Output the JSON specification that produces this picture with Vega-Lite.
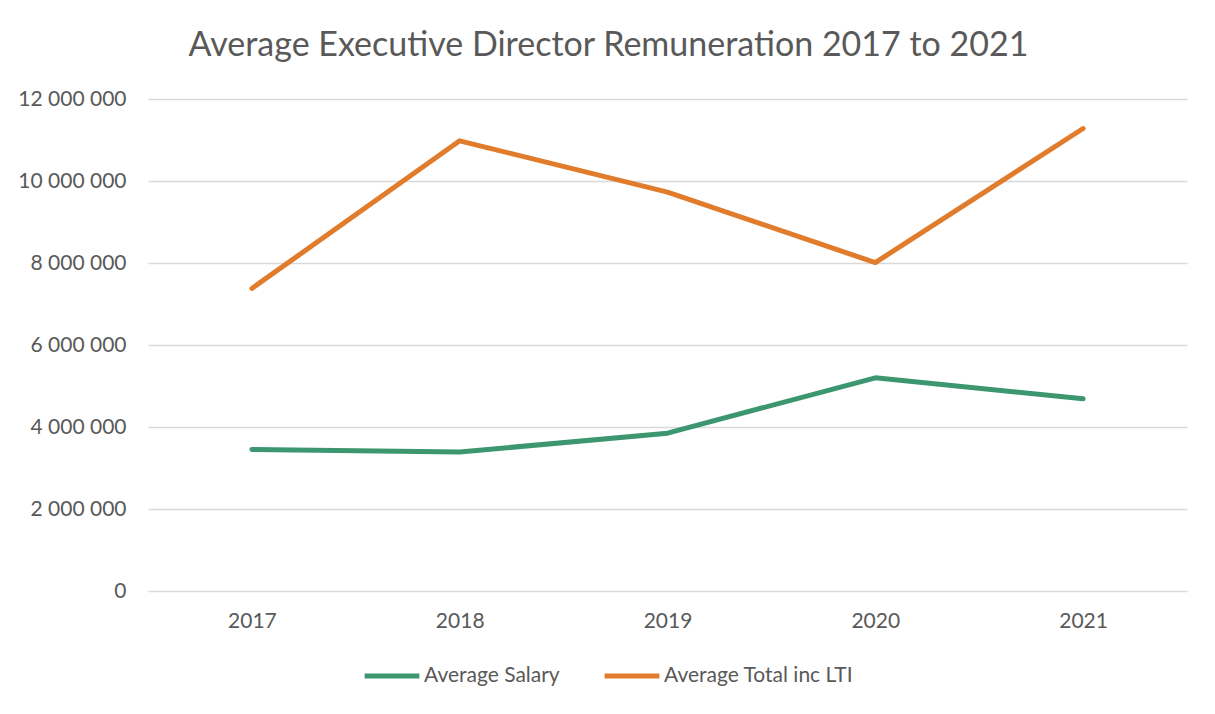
{
  "$schema": "https://vega.github.io/schema/vega-lite/v6.json",
  "autosize": {"type": "none"},
  "width": 1039,
  "height": 492,
  "padding": {"left": 148, "top": 99, "right": 28, "bottom": 123},
  "background": "white",
  "config": {
    "view": {"stroke": null},
    "font": "Lato"
  },
  "title": {
    "text": "Average Executive Director Remuneration 2017 to 2021",
    "fontSize": 34,
    "font": "Lato",
    "fontWeight": "normal",
    "color": "#595959",
    "anchor": "middle",
    "frame": "group",
    "dx": -59,
    "offset": 25
  },
  "data": {
    "values": [
      {"year": "2017", "series": "Average Salary", "value": 3450000},
      {"year": "2018", "series": "Average Salary", "value": 3390000},
      {"year": "2019", "series": "Average Salary", "value": 3850000},
      {"year": "2020", "series": "Average Salary", "value": 5200000},
      {"year": "2021", "series": "Average Salary", "value": 4690000},
      {"year": "2017", "series": "Average Total inc LTI", "value": 7380000},
      {"year": "2018", "series": "Average Total inc LTI", "value": 10980000},
      {"year": "2019", "series": "Average Total inc LTI", "value": 9730000},
      {"year": "2020", "series": "Average Total inc LTI", "value": 8010000},
      {"year": "2021", "series": "Average Total inc LTI", "value": 11280000}
    ]
  },
  "mark": {"type": "line", "strokeWidth": 5, "strokeCap": "round", "strokeJoin": "round"},
  "encoding": {
    "x": {
      "field": "year",
      "type": "ordinal",
      "scale": {"type": "point", "padding": 0.5},
      "axis": {
        "title": null,
        "labelAngle": 0,
        "labelFontSize": 21,
        "labelColor": "#595959",
        "labelPadding": 19,
        "ticks": false,
        "domain": false,
        "grid": false
      }
    },
    "y": {
      "field": "value",
      "type": "quantitative",
      "scale": {"domain": [0, 12000000]},
      "axis": {
        "title": null,
        "values": [0, 2000000, 4000000, 6000000, 8000000, 10000000, 12000000],
        "labelExpr": "datum.value == 0 ? '0' : format(datum.value / 1000000, 'd') + ' 000 000'",
        "labelFontSize": 21,
        "labelColor": "#595959",
        "labelPadding": 22,
        "ticks": false,
        "domain": false,
        "gridColor": "#d9d9d9",
        "gridWidth": 1.3
      }
    },
    "color": {
      "field": "series",
      "type": "nominal",
      "scale": {"domain": ["Average Salary", "Average Total inc LTI"], "range": ["#3c9670", "#e07c2b"]},
      "legend": {
        "title": null,
        "orient": "none",
        "direction": "horizontal",
        "legendX": 214,
        "legendY": 547,
        "symbolType": "stroke",
        "symbolSize": 3000,
        "symbolStrokeWidth": 5,
        "labelFontSize": 21,
        "labelLimit": 400,
        "labelColor": "#595959",
        "labelOffset": 2,
        "columnPadding": 34
      }
    }
  }
}
